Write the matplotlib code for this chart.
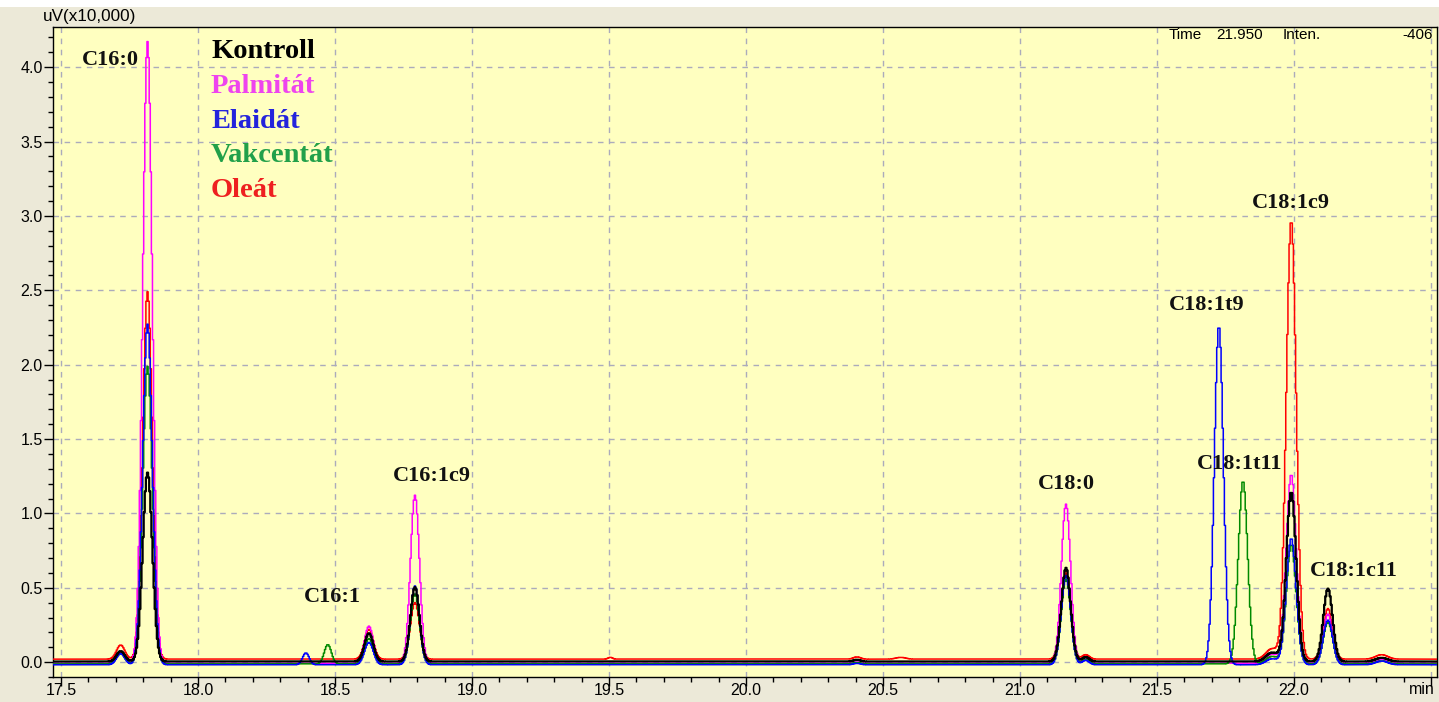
import numpy as np
import matplotlib
matplotlib.use("Agg")
import matplotlib.pyplot as plt
from matplotlib.patches import Rectangle
from matplotlib.ticker import MultipleLocator

# Retention times (min) of the peaks in the chromatogram
peak_rt = [17.718, 17.816, 18.394, 18.474, 18.624, 18.792, 19.505, 20.405,
           20.565, 21.168, 21.240, 21.726, 21.814, 21.920, 21.990, 22.124, 22.320]
# Peak widths (sigma, min)
peak_sigma = [0.015, 0.0175, 0.012, 0.013, 0.016, 0.0165, 0.008, 0.013,
              0.018, 0.017, 0.013, 0.0165, 0.017, 0.022, 0.018, 0.017, 0.022]

# Peak heights above each trace's baseline (uV x 10,000)
kontroll_h = [0.07, 1.27, 0.00, 0.00, 0.19, 0.50, 0.000, 0.012, 0.000,
              0.63, 0.03, 0.00, 0.00, 0.06, 1.14, 0.49, 0.025]
palmitat_h = [0.07, 4.18, 0.00, 0.00, 0.25, 1.13, 0.000, 0.010, 0.000,
              1.07, 0.03, 0.00, 0.00, 0.06, 1.27, 0.33, 0.025]
elaidat_h = [0.075, 2.29, 0.08, 0.00, 0.15, 0.53, 0.000, 0.010, 0.000,
             0.60, 0.03, 2.28, 0.00, 0.04, 0.85, 0.30, 0.025]
vakcentat_h = [0.07, 2.00, 0.00, 0.13, 0.17, 0.47, 0.000, 0.010, 0.000,
               0.57, 0.03, 0.00, 1.23, 0.05, 0.80, 0.28, 0.020]
oleat_h = [0.095, 2.47, 0.00, 0.00, 0.20, 0.38, 0.012, 0.015, 0.012,
           0.58, 0.03, 0.00, 0.00, 0.07, 2.95, 0.34, 0.030]

# Baseline offsets of the traces
kontroll_base = 0.004
palmitat_base = -0.008
elaidat_base = -0.018
vakcentat_base = -0.012
oleat_base = 0.020

series_names = ["Kontroll", "Palmitát", "Elaidát", "Vakcentát", "Oleát"]

# Peak annotations: label, retention time, label height
peak_labels = ["C16:0", "C16:1", "C16:1c9", "C18:0", "C18:1t9",
               "C18:1t11", "C18:1c9", "C18:1c11"]
label_rt = [17.68, 18.49, 18.855, 21.17, 21.68, 21.80, 21.99, 22.22]
label_y = [4.05, 0.44, 1.25, 1.20, 2.40, 1.33, 3.09, 0.61]

x_ticks = [17.5, 18.0, 18.5, 19.0, 19.5, 20.0, 20.5, 21.0, 21.5, 22.0, 22.5]
x_tick_labels = ["17.5", "18.0", "18.5", "19.0", "19.5", "20.0", "20.5",
                 "21.0", "21.5", "22.0", ""]
y_ticks = [0.0, 0.5, 1.0, 1.5, 2.0, 2.5, 3.0, 3.5, 4.0]

line_colors = {"Kontroll": "#000000", "Palmitát": "#FF00FF", "Elaidát": "#0000FF",
               "Vakcentát": "#008A00", "Oleát": "#FF0000"}
legend_colors = {"Kontroll": "#000000", "Palmitát": "#EE44EE", "Elaidát": "#2424DC",
                 "Vakcentát": "#22A04A", "Oleát": "#EE2020"}

heights = {"Kontroll": kontroll_h, "Palmitát": palmitat_h, "Elaidát": elaidat_h,
           "Vakcentát": vakcentat_h, "Oleát": oleat_h}
bases = {"Kontroll": kontroll_base, "Palmitát": palmitat_base, "Elaidát": elaidat_base,
         "Vakcentát": vakcentat_base, "Oleát": oleat_base}

t = np.arange(17.40, 22.60, 0.004)


def trace(h, base):
    y = np.full_like(t, base)
    for rt, s, a in zip(peak_rt, peak_sigma, h):
        y += a * np.exp(-0.5 * ((t - rt) / s) ** 2)
    return y


W, H = 1439, 702
fig = plt.figure(figsize=(W / 100, H / 100), dpi=100, facecolor="#ECE9D8")
fig.patches.append(Rectangle((0, 1 - 7 / H), 1, 7 / H, transform=fig.transFigure,
                             facecolor="white", edgecolor="none", zorder=-1))
ax = fig.add_axes([53 / W, 1 - 677 / H, 1384 / W, 650 / H])
ax.set_facecolor("#FFFFC0")

draw_order = ["Oleát", "Palmitát", "Vakcentát", "Elaidát", "Kontroll"]
for name in draw_order:
    lw = 1.6 if name == "Kontroll" else 1.1
    ax.plot(t, trace(heights[name], bases[name]), color=line_colors[name],
            lw=lw, drawstyle="steps-mid", zorder=3)

ax.set_xlim(17.471, 22.522)
ax.set_ylim(-0.10, 4.27)

ax.set_xticks(x_ticks)
ax.set_xticklabels(x_tick_labels)
ax.set_yticks(y_ticks)
ax.set_yticklabels([f"{v:.1f}" for v in y_ticks])
ax.xaxis.set_minor_locator(MultipleLocator(0.1))
ax.yaxis.set_minor_locator(MultipleLocator(0.1))
ax.tick_params(axis="both", which="major", direction="out", length=6.5, width=1,
               color="black", labelsize=11.5)
ax.tick_params(axis="both", which="minor", direction="out", length=3.5, width=1,
               color="black")
ax.tick_params(axis="x", which="major", pad=-2)
ax.tick_params(axis="y", which="major", pad=1)
for lab in ax.get_xticklabels() + ax.get_yticklabels():
    lab.set_family("Liberation Sans")

ax.grid(True, which="major", color="#ABABBB", linestyle=(0, (4, 4)), lw=1, zorder=1)
ax.set_axisbelow(True)
for sp in ax.spines.values():
    sp.set_color("black")
    sp.set_linewidth(1)

# Time-axis unit in place of the last tick label
fig.text(1435 / W, 1 - 690 / H, "min", family="Liberation Sans", fontsize=11.5,
         ha="right", va="center")

# Unit label above the y-axis
fig.text(43 / W, 1 - 17 / H, "uV(x10,000)", family="Liberation Sans", fontsize=12.3,
         ha="left", va="center")

# Cursor readout
readout_y = 1 - 35 / H
fig.text(1169 / W, readout_y, "Time", family="Liberation Sans", fontsize=11,
         ha="left", va="center")
fig.text(1216 / W, readout_y, "21.950", family="Liberation Sans", fontsize=11,
         ha="left", va="center")
fig.text(1283 / W, readout_y, "Inten.", family="Liberation Sans", fontsize=11,
         ha="left", va="center")
fig.text(1433 / W, readout_y, "-406", family="Liberation Sans", fontsize=11,
         ha="right", va="center")

# Legend as coloured names
for i, name in enumerate(series_names):
    fig.text(211 / W, 1 - (52 + 34.5 * i) / H, name, family="Liberation Serif",
             fontweight="bold", fontsize=20.5, color=legend_colors[name],
             ha="left", va="center")

# Peak names
for lab, x, y in zip(peak_labels, label_rt, label_y):
    ax.text(x, y, lab, family="Liberation Serif", fontweight="bold", fontsize=16,
            color="#111111", ha="center", va="center", zorder=4)

fig.savefig("out.png", dpi=100, facecolor=fig.get_facecolor())
